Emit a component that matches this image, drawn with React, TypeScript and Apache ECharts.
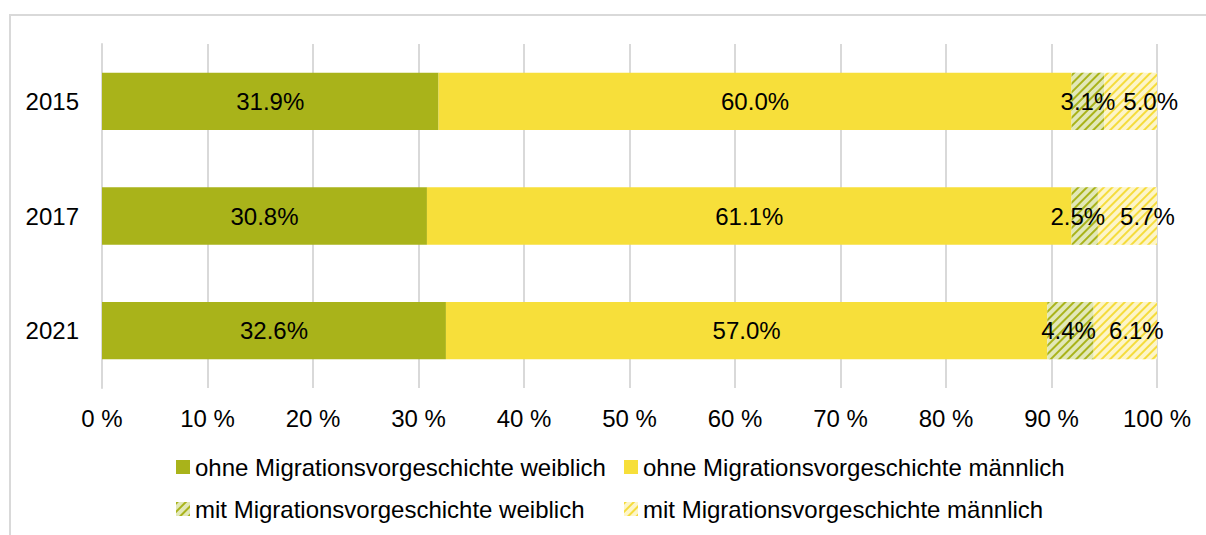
import React, { useEffect, useRef } from "react";
import * as echarts from "echarts";

const years = ["2015", "2017", "2021"];
const seriesNames = [
  "ohne Migrationsvorgeschichte weiblich",
  "ohne Migrationsvorgeschichte männlich",
  "mit Migrationsvorgeschichte weiblich",
  "mit Migrationsvorgeschichte männlich",
];
const ohneWeiblich = [31.9, 30.8, 32.6];
const ohneMaennlich = [60.0, 61.1, 57.0];
const mitWeiblich = [3.1, 2.5, 4.4];
const mitMaennlich = [5.0, 5.7, 6.1];

const FONT = "Liberation Sans, Arial, sans-serif";

export default function App() {
  const ref = useRef<HTMLDivElement>(null);
  useEffect(() => {
    document.body.style.margin = "0";
    const chart = echarts.init(ref.current!, undefined, { renderer: "svg" });
    const decal = (c: string) => ({
      symbol: "rect",
      color: c,
      dashArrayX: [1, 0],
      dashArrayY: [1.5, 3.5],
      rotation: -Math.PI / 4,
    });
    const values = [ohneWeiblich, ohneMaennlich, mitWeiblich, mitMaennlich];
    const colors = ["#a9b31a", "#f7df3a", "#e2e8b8", "#fdf5c8"];
    const decals = [null, null, decal("#a9b31a"), decal("#f5dc3c")];
    // label x-offsets per series per category (styling only)
    const labelOffsets = [
      [0, 0, 0],
      [0, 0, 0],
      [0, -7, -2],
      [20, 20, 11],
    ];
    const legendPos = [
      { left: 171, top: 450 },
      { left: 619, top: 450 },
      { left: 171, top: 492 },
      { left: 619, top: 492 },
    ];
    chart.setOption({
      animation: false,
      graphic: [
        {
          type: "rect",
          shape: { x: 10, y: 15, width: 1300, height: 600 },
          style: { fill: "none", stroke: "#d9d9d9", lineWidth: 2 },
          silent: true,
        },
      ],
      grid: { left: 102, right: 49, top: 44, bottom: 147 },
      legend: seriesNames.map((n, i) => ({
        data: [n],
        ...legendPos[i],
        itemWidth: 14,
        itemHeight: 14,
        itemGap: 0,
        icon: "rect",
        textStyle: { fontSize: 24, fontFamily: FONT, color: "#000" },
        selectedMode: false,
      })),
      xAxis: {
        type: "value",
        min: 0,
        max: 100,
        interval: 10,
        axisLabel: {
          formatter: (v: number) => v + " %",
          fontSize: 24,
          fontFamily: FONT,
          color: "#000",
          margin: 18,
        },
        splitLine: { show: true, lineStyle: { color: "#d9d9d9", width: 2 } },
        axisLine: { show: false },
        axisTick: { show: false },
      },
      yAxis: {
        type: "category",
        data: years,
        inverse: true,
        axisLabel: { fontSize: 24, fontFamily: FONT, color: "#000", margin: 23 },
        axisLine: { show: true, lineStyle: { color: "#d9d9d9", width: 2 } },
        axisTick: { show: false },
      },
      series: seriesNames.map((n, i) => ({
        name: n,
        type: "bar",
        stack: "total",
        barWidth: "50%",
        data: values[i].map((v, j) => ({
          value: v,
          label: { offset: [labelOffsets[i][j], 0] },
        })),
        itemStyle: {
          color: colors[i],
          ...(decals[i] ? { decal: decals[i] } : {}),
        },
        label: {
          show: true,
          position: "inside",
          formatter: (p: any) => Number(p.value).toFixed(1) + "%",
          color: "#000",
          fontSize: 24,
          fontFamily: FONT,
        },
      })),
    });
    return () => chart.dispose();
  }, []);
  return <div ref={ref} style={{ width: 1206, height: 535 }} />;
}
